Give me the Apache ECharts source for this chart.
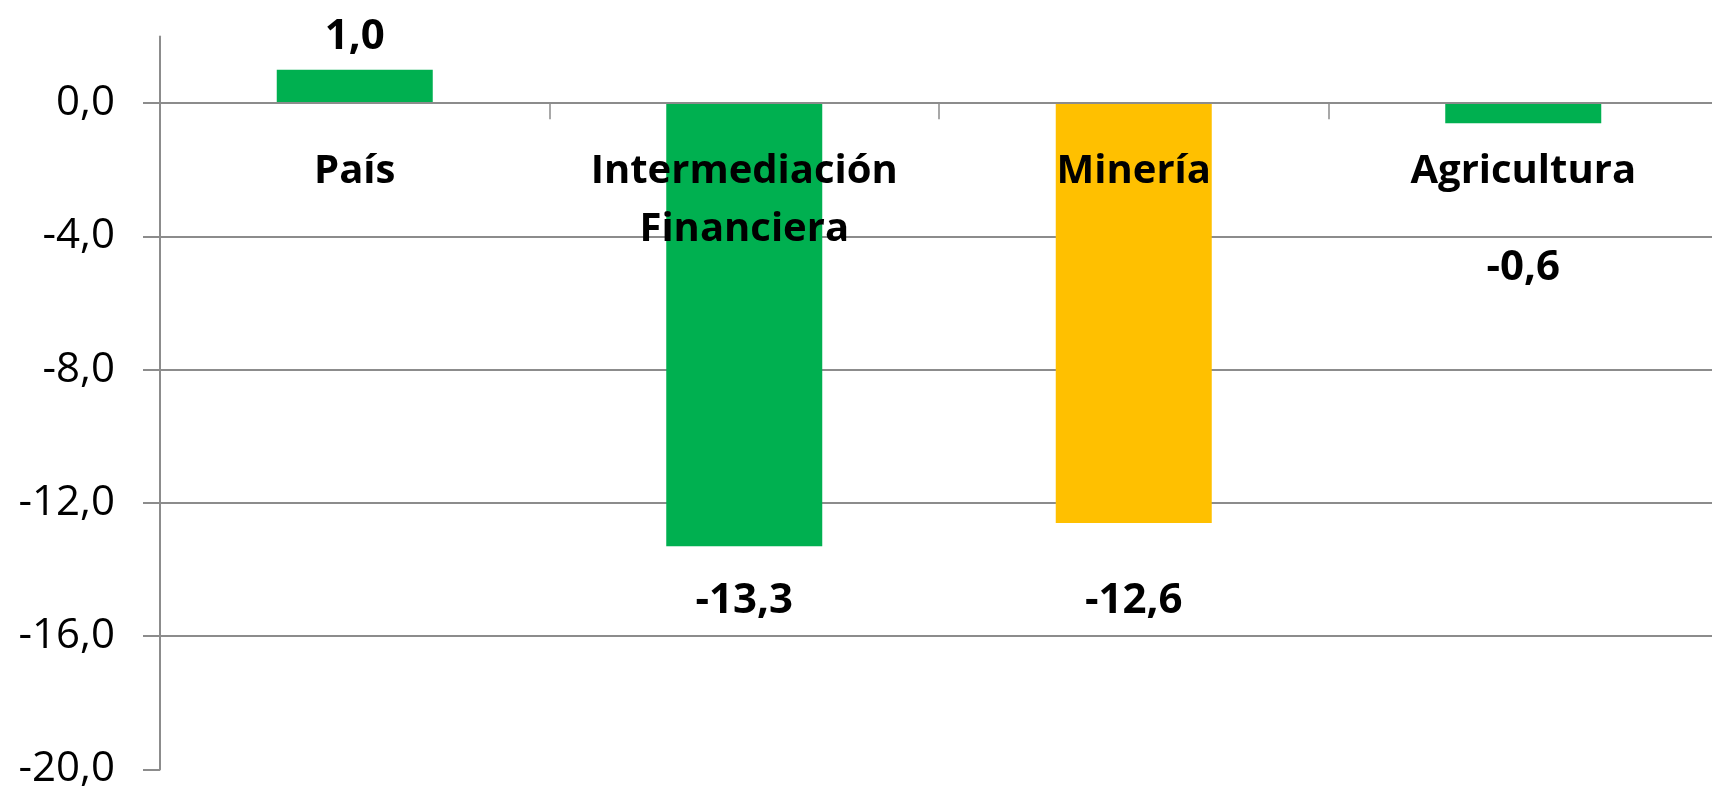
<!DOCTYPE html>
<html>
<head>
<meta charset="utf-8">
<title>Variación por sector</title>
<script src="https://cdn.jsdelivr.net/npm/echarts@6/dist/echarts.min.js"></script>
<style>
  html, body { margin: 0; padding: 0; background: #fff; }
  #chart { width: 1712px; height: 789px; }
</style>
</head>
<body>
<div id="chart"></div>
<script>
// data
var categories = ['País', 'Intermediación Financiera', 'Minería', 'Agricultura'];
var values = [1.0, -13.3, -12.6, -0.6];
var barColors = ['#00b050', '#00b050', '#ffc000', '#00b050'];
var yTicks = [0, -4, -8, -12, -16, -20];

// labels were moved by hand in the original, so each one gets its own gap
var labelGap = [12, 34, 57, 124];

var gray = '#8c8c8c';
var font = '"Open Sans", "Noto Sans", sans-serif';
var gridBottom = 19.5;

function fmt(v) {
  return v.toFixed(1).replace('.', ',').replace('-0,0', '0,0');
}

var myChart = echarts.init(document.getElementById('chart'));
var option = {
  backgroundColor: '#ffffff',
  animation: false,
  grid: {
    left: 160,
    right: -6,
    top: 36.5,
    bottom: gridBottom,
    containLabel: false,
    outerBoundsMode: 'none'
  },
  xAxis: {
    type: 'category',
    data: categories,
    z: 5,
    offset: 0,
    axisLine: { onZero: false, lineStyle: { color: gray, width: 2 } },
    axisTick: { show: true, length: 16, lineStyle: { color: gray, width: 1.5 } },
    axisLabel: {
      margin: 39,
      interval: 0,
      color: '#000',
      fontFamily: font,
      fontWeight: 'bold',
      fontSize: 40,
      lineHeight: 58,
      formatter: function (v) { return v.replace(' ', '\n'); }
    },
    splitLine: { show: false }
  },
  yAxis: {
    type: 'value',
    min: -20,
    max: 2,
    interval: 4,
    axisLine: { show: true, lineStyle: { color: gray, width: 2 } },
    axisTick: { show: true, length: 17, customValues: yTicks, lineStyle: { color: gray, width: 2 } },
    axisLabel: {
      customValues: yTicks,
      margin: 45,
      color: '#000',
      fontFamily: font,
      fontSize: 42,
      formatter: fmt
    },
    splitLine: { show: true, showMaxLine: false, lineStyle: { color: gray, width: 2 } }
  },
  series: [{
    type: 'bar',
    barWidth: 156,
    data: values.map(function (v, i) {
      return {
        value: v,
        itemStyle: { color: barColors[i] },
        label: {
          show: true,
          position: v >= 0 ? 'top' : 'bottom',
          distance: labelGap[i],
          formatter: function (p) { return fmt(p.value); },
          color: '#000',
          fontFamily: font,
          fontWeight: 'bold',
          fontSize: 42
        }
      };
    })
  }]
};
myChart.setOption(option);

// lift the category axis up to the zero line, labels included
var zeroY = myChart.convertToPixel({ yAxisIndex: 0 }, 0);
var bottomY = myChart.convertToPixel({ yAxisIndex: 0 }, -20);
myChart.setOption({ xAxis: { offset: -(bottomY - zeroY) } });
</script>
</body>
</html>
